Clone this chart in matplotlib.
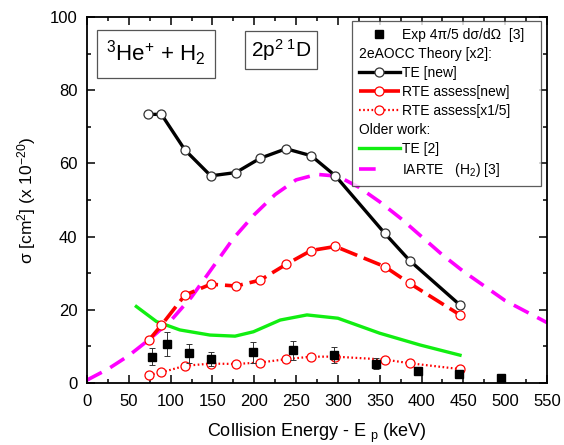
import matplotlib
matplotlib.use("Agg")
import matplotlib.pyplot as plt
import matplotlib.transforms as mtransforms
from matplotlib.lines import Line2D
from matplotlib.ticker import MultipleLocator

plt.rcParams['font.family'] = ['Liberation Sans', 'DejaVu Sans']
plt.rcParams['mathtext.fontset'] = 'custom'
plt.rcParams['mathtext.rm'] = 'Liberation Sans'
plt.rcParams['mathtext.it'] = 'Liberation Sans:italic'
plt.rcParams['mathtext.bf'] = 'Liberation Sans:bold'
plt.rcParams['lines.scale_dashes'] = False

# ---- data ----
te_new_x = [73, 89, 117, 148, 178, 207, 238, 268, 297, 356, 386, 446]
te_new_y = [73.4, 73.4, 63.7, 56.6, 57.5, 61.4, 64.0, 62.1, 56.6, 40.9, 33.4, 21.3]

rte_new_x = [74, 89, 117, 148, 178, 207, 238, 268, 297, 356, 386, 446]
rte_new_y = [11.7, 15.8, 24.0, 27.0, 26.5, 28.1, 32.4, 36.2, 37.3, 31.8, 27.2, 18.6]

rte_5_x = [74, 89, 117, 148, 178, 207, 238, 268, 297, 356, 386, 446]
rte_5_y = [2.2, 2.9, 4.7, 5.3, 5.2, 5.6, 6.5, 7.2, 7.2, 6.4, 5.4, 3.8]

te2_x = [59, 83, 111, 147, 177, 199, 231, 263, 300, 350, 398, 446]
te2_y = [20.9, 16.8, 14.5, 13.1, 12.8, 14.0, 17.2, 18.6, 17.7, 13.6, 10.4, 7.6]

iarte_x = [0, 25, 50, 75, 100, 125, 150, 175, 200, 225, 250, 275, 300, 325,
           350, 375, 400, 425, 450, 475, 500, 525, 550]
iarte_y = [0.8, 3.8, 7.5, 12.0, 17.0, 23.5, 31.5, 39.5, 46.0, 51.5, 55.5, 57.0,
           56.5, 53.5, 49.5, 45.0, 40.0, 35.0, 30.5, 26.5, 22.5, 19.5, 16.5]

exp_x = [78, 96, 122, 148, 198, 246, 295, 346, 396, 445, 495]
exp_y = [7.2, 10.7, 8.1, 6.6, 8.4, 9.0, 7.7, 5.2, 3.4, 2.5, 1.5]
exp_err = [2.3, 3.3, 2.6, 2.0, 2.8, 2.6, 2.2, 1.5, 0, 0, 0]

fig = plt.figure(figsize=(5.64, 4.45), dpi=100)
ax = fig.add_axes([87/564, 1-383/445, 460/564, 366/445])

# lines
ax.plot(iarte_x, iarte_y, color='#ff00ff', lw=2.6, dashes=(12, 7),
        label='IARTE   (H$_2$) [3]', zorder=2)
ax.plot(te2_x, te2_y, color='#11ee11', lw=2.4, label='TE [2]', zorder=2)
ax.plot(te_new_x, te_new_y, color='black', lw=2.4, marker='o', ms=6.5,
        mfc='white', mec='#333333', mew=0.9, label='TE [new]', zorder=3)
ax.plot(rte_new_x, rte_new_y, color='red', lw=2.6, dashes=(13, 5), marker='o',
        ms=6.5, mfc='white', mec='red', mew=0.9, label='RTE assess[new]', zorder=3)
ax.plot(rte_5_x, rte_5_y, color='red', lw=1.6, dashes=(1.2, 1.8), marker='o',
        ms=6.5, mfc='white', mec='red', mew=0.9, label='RTE assess[x1/5]', zorder=3)
ax.errorbar(exp_x, exp_y, yerr=exp_err, fmt='none', ecolor='#333333',
            elinewidth=0.7, capsize=2.5, capthick=0.7, zorder=4)
exp_label = 'Exp 4\u03c0/5 d\u03c3/d\u03a9  [3]'
ax.plot(exp_x, exp_y, ls='none', marker='s', ms=6, color='black',
        label=exp_label, zorder=5)

ax.set_xlim(0, 550)
ax.set_ylim(0, 100)
ax.xaxis.set_major_locator(MultipleLocator(50))
ax.xaxis.set_minor_locator(MultipleLocator(25))
ax.yaxis.set_major_locator(MultipleLocator(20))
ax.yaxis.set_minor_locator(MultipleLocator(10))
ax.tick_params(which='both', direction='in', top=True, right=True,
               labelsize=12, width=1.1)
ax.tick_params(axis='x', which='both', pad=8)
ax.tick_params(axis='y', which='both', pad=7)
ax.tick_params(which='major', length=5.5)
ax.tick_params(which='minor', length=3)
for s in ax.spines.values():
    s.set_linewidth(1.3)

ax.set_xlabel('Collision Energy - E $_{\\rm p}$ (keV)', fontsize=13, labelpad=9)
ax.set_ylabel('\u03c3 [cm$^2$] (x 10$^{-20}$)', fontsize=12.5, labelpad=8)

# text boxes
ax.text(0.041, 0.94, '$^{3}$He$^{+}$ + H$_{2}$', transform=ax.transAxes,
        fontsize=16, va='top', ha='left',
        bbox=dict(boxstyle='square,pad=0.42', fc='white', ec='#555555', lw=0.9))
ax.text(0.357, 0.945, '2p$^{2\\ 1}$D', transform=ax.transAxes,
        fontsize=15, va='top', ha='left',
        bbox=dict(boxstyle='square,pad=0.28', fc='white', ec='#555555', lw=0.9))

# legend
hs, ls = ax.get_legend_handles_labels()
hd = {l: h for h, l in zip(hs, ls)}
blank = Line2D([], [], ls='none', marker='none')
order = [exp_label, 'HDR1', 'TE [new]',
         'RTE assess[new]', 'RTE assess[x1/5]', 'HDR2', 'TE [2]',
         'IARTE   (H$_2$) [3]']
headers = {'HDR1': '2eAOCC Theory [x2]:', 'HDR2': 'Older work:'}
handles = [blank if o in headers else hd[o] for o in order]
labels = [headers.get(o, o) for o in order]
fs = 10
leg = ax.legend(handles, labels, loc='upper right',
                bbox_to_anchor=(0.988, 0.990), borderaxespad=0,
                fontsize=fs, handlelength=2.9, handletextpad=0.15,
                labelspacing=0.36, frameon=True, fancybox=False,
                edgecolor='#333333', borderpad=0.5, numpoints=1)
leg.get_frame().set_linewidth(0.9)
leg.set_zorder(10)
dx = (2.9 + 0.15) * fs * 100 / 72
for t, o in zip(leg.get_texts(), order):
    if o in headers:
        t.set_transform(t.get_transform() + mtransforms.Affine2D().translate(-dx, 0))
# short magenta handle
leg.legend_handles[-1].set_dashes((12, 30))

fig.savefig('out.png', dpi=100)
